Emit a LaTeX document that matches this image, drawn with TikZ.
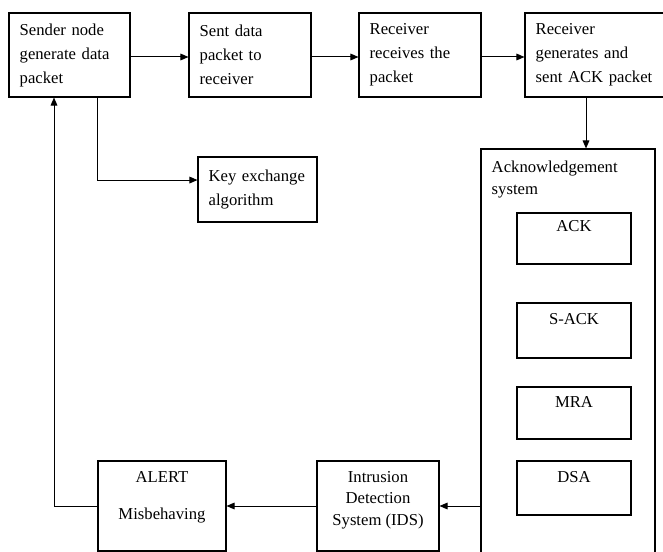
\documentclass[tikz,border=0pt]{standalone}
\usepackage{fontspec}
\setmainfont{Liberation Serif}
\usetikzlibrary{arrows.meta}
\begin{document}
\begin{tikzpicture}[x=0.75pt,y=-0.75pt,
  every node/.style={font=\fontsize{12.5}{18}\selectfont},
  box/.style={draw, line width=0.8pt, inner xsep=8pt, inner ysep=0pt, align=left},
  plain/.style={draw, line width=0.8pt, inner sep=0pt},
  arr/.style={line width=0.75pt, -{Triangle[length=6pt,width=5pt]}},
  txt/.style={inner sep=0pt, align=center}
]
\useasboundingbox (0,0) rectangle (663,552);
% top row
\node[box, minimum width=90.75pt, minimum height=63pt, text width=74.75pt] (b1) at (69.5,55) {Sender node\\generate data\\packet};
\node[box, minimum width=91.5pt, minimum height=63pt, text width=75.5pt] (b2) at (250,55) {Sent data\\packet to\\receiver};
\node[box, minimum width=91.5pt, minimum height=63pt, text width=75.5pt] (b3) at (420,55) {Receiver\\receives the\\packet};
\node[box, minimum width=108.75pt, minimum height=63pt, text width=92.75pt] (b4) at (597.5,55) {Receiver\\generates and\\sent ACK packet};
% key exchange
\node[box, minimum width=89.25pt, minimum height=48.75pt, text width=73.25pt] (key) at (257.5,189.5) {Key exchange\\algorithm};
% acknowledgement system
\node[plain, minimum width=130.5pt, minimum height=315.75pt,
  label={[txt, align=left, anchor=north west, xshift=8.25pt, yshift=-9pt, font=\fontsize{12.5}{16.5}\selectfont]north west:{Acknowledgement\\system}}] (big) at (568,359.5) {};
\node[plain, minimum width=85.5pt, minimum height=38.25pt,
  label={[txt, anchor=north, yshift=-6pt]north:ACK}] (ack) at (574,238.5) {};
\node[plain, minimum width=85.5pt, minimum height=41.25pt,
  label={[txt, anchor=north, yshift=-8.25pt]north:S-ACK}] (sack) at (574,330.5) {};
\node[plain, minimum width=85.5pt, minimum height=39pt,
  label={[txt, anchor=north, yshift=-7.5pt]north:MRA}] (mra) at (574,413) {};
\node[plain, minimum width=85.5pt, minimum height=40.5pt,
  label={[txt, anchor=north, yshift=-8.25pt]north:DSA}] (dsa) at (574,488) {};
% bottom row
\node[plain, minimum width=91.5pt, minimum height=67.5pt,
  label={[txt, anchor=north, yshift=-8pt, font=\fontsize{12.5}{16}\selectfont]north:{Intrusion\\Detection\\System (IDS)}}] (ids) at (378,506) {};
\node[plain, minimum width=96pt, minimum height=67.5pt,
  label={[txt, anchor=north, yshift=-8.25pt]north:{ALERT\\[9.75pt]Misbehaving}}] (alert) at (162,506) {};
% connectors
\draw[arr] ([yshift=-1.5pt]b1.east) -- ([yshift=-1.5pt]b2.west);
\draw[arr] ([yshift=-1.5pt]b2.east) -- ([yshift=-1.5pt]b3.west);
\draw[arr] ([yshift=-1.5pt]b3.east) -- ([yshift=-1.5pt]b4.west);
\coordinate (d4) at ([xshift=-8.625pt]b4.south);
\draw[arr] (d4) -- (d4 |- big.north);
\coordinate (d1) at ([xshift=20.625pt]b1.south);
\draw[arr] (d1) |- ([yshift=7.1pt]key.west);
\draw[arr] (ids.east -| big.west) -- (ids.east);
\draw[arr] (ids.west) -- (alert.east);
\coordinate (u1) at ([xshift=-11.625pt]b1.south);
\draw[arr] (alert.west) -| (u1);
\end{tikzpicture}
\end{document}
